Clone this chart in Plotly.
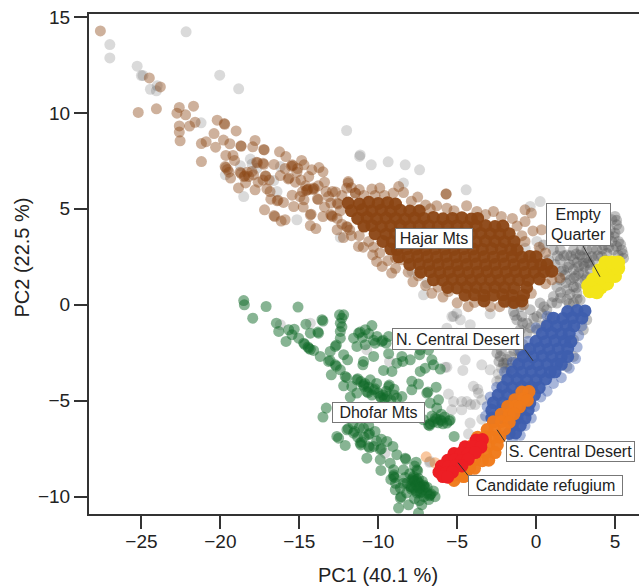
import plotly.graph_objects as go

gray_pts = [(-27.0,13.56),(-27.0,12.86),(-22.17,14.22),(-25.27,12.43),(-25.0,11.94),(-24.9,11.95),(-20.04,11.96),(-18.84,11.25),
(-24.0,11.41),(-24.43,11.23),(-24.05,11.15),(-21.22,9.48),(-12.0,9.08),(-11.18,7.73),(-18.1,7.59),(-17.99,7.34),(-16.2,7.2),
(-19.68,6.77),(-18.73,7.24),(-17.68,7.12),(-16.62,6.47),(-16.41,5.9),(-18.52,5.64),(-15.15,4.43),(-12.4,3.51),
(-4.43,5.99),(-7.38,7.03),(-8.4,6.34),(0.26,5.38),(-0.37,5.12),(0.05,3.3),(0.26,2.86),(-0.69,2.95),(-7.13,0.52),(-7.86,1.74),(-6.91,1.13),
(-2.91,-0.47),(-5.02,-0.44),(-5.33,-0.61),(-4.8,-0.78),(-4.17,-1.04),(-4.38,-1.65),(-5.23,-1.65),(-5.65,-1.22),(-4.49,-2.87),(-5.02,-1.48),
(-11.14,7.81),(-10.44,7.29),(-9.37,7.45),(-8.29,7.29),
(-5.55,-4.65),(-4.64,-3.42),(-5.76,-3.25),(-3.44,-3.13),(-3.97,-4.25),(-3.65,-4.6),(-5.23,-5.04),(-4.71,-5.04),(-4.39,-5.04),(-3.86,-5.2),
(-4.71,-5.47),(-5.34,-5.47),(-4.14,-5.2),(-3.44,-4.95),(-4.18,-6.16),(-3.44,-5.96),(-4.28,-6.72),(-2.49,-3.99),(-2.28,-3.91),(-2.91,-3.39),
(-2.07,-3.13),(-1.86,-3.04),(-1.86,-3.56),(-6.71,-8.16),(-5.23,-0.6),(-10.72,-2.34),(-9.28,-2.95),(-5.65,-3.25),(-14.3,-0.96),(-16.2,-1.04),
(-6.75,-8.21),(-9.56,-7.73),(-3.7,-4.4),(-2.4,-3.6),(-2.2,-3.3),(-1.9,-3.3)]

gray_cluster = [(5.0,4.6),(4.8,4.43),(5.11,4.17),(5.0,3.73),(4.69,3.9),(5.22,3.3),(4.8,3.3),(5.43,2.86),(4.9,2.86),(5.54,2.43),(4.48,2.69),(3.85,2.86),
(4.16,2.52),(3.21,2.86),(3.53,2.52),(2.37,2.86),(2.79,2.6),(1.53,2.86),(1.95,2.6),(1.1,2.86),(0.47,3.12),(0.79,2.34),(1.53,2.34),(2.37,2.34),
(2.99,2.17),(3.64,2.34),(1.74,1.82),(2.37,1.82),(2.99,1.65),(3.43,1.82),(2.69,2.0),(1.53,1.3),(2.16,1.3),(2.79,1.13),(1.84,1.56),(2.37,0.95),
(1.32,0.95),(1.95,0.78),(2.58,0.61),(2.79,0.26),(1.1,0.43),(0.26,0.09),(0.68,-0.26),(1.32,0.09),(1.95,0.26),(2.37,0.09),(0.05,-0.61),(0.68,-0.96),
(-0.37,-0.26),(-1.0,-0.09),(-1.43,-0.35),(-1.22,-0.78),(-0.58,-0.96),(0.05,-1.3),(-0.58,-1.48),(-1.0,-1.3),(-1.64,0.09),(3.21,-0.78),(2.99,-1.3),
(2.37,-1.82),(2.37,-2.69),(1.95,-3.21),(-2.48,-2.52),(-2.06,-3.04),(-1.0,-2.69),(-0.58,-2.34),(-1.64,-2.69),(-2.27,-2.69),
(2.9,2.5),(3.3,2.2),(3.1,1.3),(2.5,1.5),(2.1,2.1),(4.3,3.1),(4.6,3.6),(4.4,2.3),(1.2,2.1),(0.9,1.7),(-1.35,-0.55),(-0.9,-0.6),
(5.1,4.4),(5.25,3.95),(4.95,3.55),(5.35,3.15),(5.1,3.05),(5.5,2.65),(5.2,2.6),(4.6,3.0),(4.2,2.9),(3.9,2.55),(3.55,2.9),(3.2,2.45),(2.85,2.85),
(2.55,2.65),(2.2,2.55),(1.75,2.55),(1.35,2.55),(3.05,2.0),(3.4,2.1),(2.6,2.2),(2.0,1.95),(1.6,1.75),(2.7,1.65),(3.2,1.45),(2.4,1.4),(1.9,1.15),
(1.55,0.65),(2.15,0.55),(2.55,0.9),(2.6,0.3),(2.1,0.05),(1.55,0.35),(1.0,0.1),(0.5,-0.1),(0.9,-0.65),(0.35,-0.45),(0.3,-1.1),(-0.15,-0.7),
(-0.85,-0.95),(-0.35,-1.2),(-1.1,-2.4),(-0.85,-2.05),(-2.2,-2.4),(-1.85,-2.85),(-1.4,-2.4),(-1.3,-3.0),(-2.35,-2.95),(-1.6,-3.3)]

hajar_loose = [(-27.6,14.27),(-24.5,11.82),(-23.8,11.35),(-25.2,10.02),(-24.05,10.21),(-21.7,10.35),(-22.6,10.28),(-22.75,9.98),(-22.2,9.9),
(-21.6,9.51),(-21.95,9.31),(-22.6,9.32),(-22.6,9.0),(-22.55,8.54),(-21.2,8.4),(-20.9,8.5),(-20.3,8.21),(-20.4,8.92),(-20.2,9.62),(-19.75,9.44),
(-19.72,9.4),(-19.0,9.06),(-19.8,8.58),(-19.4,8.39),(-18.7,8.28),(-18.68,8.26),(-17.8,8.56),(-17.95,8.23),(-17.25,8.09),(-17.22,8.07),(-21.2,7.46),
(-19.65,7.78),(-19.2,7.78),(-19.1,7.52),(-19.7,7.2),(-19.65,7.15),(-19.55,7.05),(-19.45,6.91),(-19.35,6.6),(-18.75,6.91),(-18.7,6.85),(-18.5,6.68),
(-18.45,6.72),(-18.2,6.68),(-17.9,6.77),(-17.6,6.39),(-18.4,6.35),(-18.85,6.09),(-17.8,5.99),(-17.7,7.43),(-17.65,7.4),(-17.3,7.38),(-17.25,7.32),
(-16.6,7.31),(-17.15,6.72),(-17.12,6.7),(-16.25,7.97),(-15.85,7.72),(-15.45,7.29),(-15.4,7.25),(-15.5,7.22),(-14.85,7.52),(-14.7,7.29),(-15.15,6.91),
(-16.2,6.73),(-15.7,6.56),(-15.65,6.6),(-15.25,6.39),(-14.4,6.68),(-14.2,7.03),(-13.75,7.15),(-13.5,6.93),(-13.4,6.39),(-17.05,6.04),(-16.85,5.9),
(-15.45,5.71),(-14.5,5.99),(-14.45,6.02),(-14.55,5.95),(-14.1,6.08),(-14.05,6.04),(-14.15,6.0),(-14.95,5.64),(-14.7,5.47),(-13.85,5.52),(-13.8,5.48),
(-16.8,5.5),(-16.4,5.42),(-16.35,5.45),(-16.0,5.33),(-17.2,4.95),(-16.6,4.65),(-16.55,4.6),(-16.15,4.36),(-15.9,4.43),(-15.35,5.12),(-14.75,5.09),
(-14.3,4.69),(-14.25,4.72),(-14.3,4.13),(-13.95,3.97),(-13.5,4.6),(-12.95,4.64),(-12.9,4.6),(-13.0,4.7),(-13.15,5.64),(-12.7,5.87),(-12.6,5.3),
(-12.55,5.25),(-11.9,6.42),(-12.0,6.08),(-11.45,5.82),(-12.6,3.91),(-12.0,4.08),(-11.95,4.04),(-11.25,3.04),(-11.9,6.34),(-11.45,5.82),(-10.4,6.03),
(-9.9,6.08),(-9.05,5.82),(-8.7,6.16),(-8.4,5.85),(-7.5,5.61),(-5.7,5.78),(-5.7,5.76),(-6.3,5.16),(-5.65,5.03),(-4.4,5.16),(-3.75,4.86),(-2.7,4.86),
(-0.7,4.95),(-0.3,4.78),(-0.7,4.34),(-0.2,3.85),(0.35,3.91),(-10.95,3.0),(-10.35,2.6),(-10.1,2.26),(-9.75,2.0),(-9.15,1.65),(-8.9,2.43),(-8.5,2.34),
(-7.45,1.51),(-6.2,0.92),(-5.55,0.69),(-3.9,0.12),(-1.45,0.17),(-0.8,0.0),(-11.8,3.9),(-12.2,3.5),
(-18.3,6.9),(-18.0,6.95),(-17.3,6.5),(-16.9,6.5),(-15.9,7.1),(-15.1,7.1),(-14.9,6.5),(-14.6,6.2),(-14.8,5.9),(-13.8,6.2),(-13.3,5.9),(-13.0,5.3),
(-12.4,4.9),(-13.4,5.1),(-12.9,5.9),(-12.3,5.7),(-11.7,6.1),(-11.2,6.0),(-10.9,5.7),(-10.2,5.7),(-9.6,5.7),(-7.9,5.4),(-7.0,5.2),(-6.7,5.0),(-5.2,4.9),
(-3.2,4.7),(-2.2,4.6),(-1.5,4.5),(-1.2,4.1),(-0.9,3.6),(-0.7,3.3),(0.2,3.0),(0.6,2.7),(-12.6,4.5),(-12.3,4.2),(-11.7,3.6),(-11.2,3.6),(-10.6,3.3),
(-10.3,3.0),(-9.9,2.7),(-9.4,2.3),(-8.9,1.9),(-8.1,1.7),(-7.8,1.2),(-7.0,1.0),(-6.6,0.6),(-5.9,0.4),(-5.0,0.1),(-4.3,-0.1),(-2.9,-0.1),(-2.3,-0.1),
(-0.3,0.6),(0.6,1.1),(1.0,1.3),(1.5,1.4)]

hajar_core = [(-11.9,5.3),(-11.2,5.25),(-10.6,5.34),(-10.0,5.28),(-9.4,5.32),(-8.9,5.25),
(-11.7,4.9),(-11.0,4.95),(-10.4,4.88),(-9.8,4.93),(-9.2,4.87),(-8.6,4.92),(-8.0,4.88),(-7.4,4.9),
(-11.3,4.5),(-10.7,4.55),(-10.1,4.48),(-9.5,4.52),(-8.9,4.5),(-8.3,4.46),(-7.7,4.52),(-7.1,4.5),(-6.5,4.55),(-5.9,4.48),(-5.3,4.5),(-4.7,4.53),(-4.1,4.47),(-3.7,4.5),
(-10.9,4.1),(-10.4,4.12),(-9.8,4.08),(-9.2,4.1),(-8.6,4.13),(-8.0,4.08),(-7.4,4.1),(-6.8,4.12),(-6.2,4.07),(-5.6,4.1),(-5.0,4.12),(-4.4,4.08),(-3.8,4.1),(-3.2,4.12),(-2.6,4.08),(-2.1,4.1),
(-10.2,3.7),(-9.5,3.68),(-8.9,3.72),(-8.3,3.7),(-7.7,3.68),(-7.1,3.72),(-6.5,3.7),(-5.9,3.68),(-5.3,3.72),(-4.7,3.7),(-4.1,3.68),(-3.5,3.72),(-2.9,3.7),(-2.3,3.68),(-1.7,3.7),
(-9.7,3.3),(-9.1,3.28),(-8.6,3.32),(-8.0,3.3),(-7.4,3.28),(-6.8,3.32),(-6.2,3.3),(-5.6,3.28),(-5.0,3.32),(-4.4,3.3),(-3.8,3.28),(-3.2,3.32),(-2.6,3.3),(-2.0,3.28),(-1.4,3.3),
(-9.2,2.9),(-8.8,2.88),(-8.2,2.92),(-7.6,2.9),(-7.0,2.88),(-6.4,2.92),(-5.8,2.9),(-5.2,2.88),(-4.6,2.92),(-4.0,2.9),(-3.4,2.88),(-2.8,2.92),(-2.2,2.9),(-1.6,2.88),(-1.2,2.85),
(-8.7,2.5),(-8.1,2.48),(-7.5,2.52),(-6.9,2.5),(-6.3,2.48),(-5.7,2.52),(-5.1,2.5),(-4.5,2.48),(-3.9,2.52),(-3.3,2.5),(-2.7,2.48),(-2.1,2.52),(-1.5,2.5),(-0.9,2.48),(-0.4,2.52),(0.0,2.5),
(-8.0,2.1),(-7.4,2.12),(-6.8,2.08),(-6.2,2.1),(-5.6,2.12),(-5.0,2.08),(-4.4,2.1),(-3.8,2.12),(-3.2,2.08),(-2.6,2.1),(-2.0,2.12),(-1.4,2.08),(-0.8,2.1),(-0.2,2.12),(0.3,2.08),(0.7,2.1),
(-7.3,1.7),(-6.7,1.72),(-6.1,1.68),(-5.5,1.7),(-4.9,1.72),(-4.3,1.68),(-3.7,1.7),(-3.1,1.72),(-2.5,1.68),(-1.9,1.7),(-1.3,1.72),(-0.7,1.68),(-0.1,1.7),(0.5,1.72),(1.0,1.75),
(-6.5,1.3),(-5.9,1.28),(-5.3,1.32),(-4.7,1.3),(-4.1,1.28),(-3.5,1.32),(-2.9,1.3),(-2.3,1.28),(-1.7,1.32),(-1.1,1.3),(-0.5,1.28),(0.2,1.35),
(-5.6,0.9),(-5.0,0.88),(-4.4,0.92),(-3.8,0.9),(-3.2,0.88),(-2.6,0.92),(-2.0,0.9),(-1.4,0.88),(-0.6,0.9),
(-4.5,0.5),(-3.9,0.52),(-3.3,0.48),(-2.7,0.5),(-2.1,0.52),(-1.5,0.48),(-0.8,0.5),
(-3.3,0.2),(-2.0,0.18),(-1.4,0.12),(-0.9,0.2)]

dhofar_pts = [(-18.52,0.22),(-18.48,0.0),(-17.95,-0.7),(-17.1,-0.09),(-15.08,-0.12),(-16.45,-0.96),(-16.3,-1.39),(-15.84,-1.91),(-15.67,-1.3),(-15.32,-1.27),
(-15.46,-1.56),(-15.04,-1.74),(-14.72,-2.0),(-14.66,-2.06),(-14.4,-2.26),(-14.45,-2.2),(-14.3,-2.32),(-14.09,-2.38),(-13.67,-2.69),(-14.58,-1.01),(-14.3,-1.48),
(-13.78,-1.48),(-13.82,-1.42),(-13.56,-0.78),(-13.5,-0.85),(-12.45,-0.52),(-12.19,-0.52),(-12.4,-0.96),(-12.4,-1.39),(-12.4,-1.74),(-12.72,-2.17),(-12.65,-2.1),
(-13.04,-2.43),(-13.14,-2.95),(-13.05,-2.9),(-12.72,-3.13),(-12.65,-3.2),(-12.19,-2.6),(-11.94,-2.87),(-12.4,-3.39),(-12.09,-3.73),(-12.0,-3.8),(-12.97,-3.65),
(-12.19,-4.22),(-11.67,-4.26),(-11.35,-3.91),(-11.3,-3.85),(-10.93,-4.17),(-10.9,-4.25),(-10.85,-4.1),(-10.5,-3.91),(-10.29,-4.43),(-10.2,-4.38),(-10.72,-4.52),
(-10.65,-4.58),(-11.77,-4.81),(-11.35,-4.6),(-9.87,-4.78),(-9.8,-4.85),(-9.7,-4.7),(-9.34,-4.26),(-9.3,-4.18),(-9.45,-4.78),(-8.82,-4.86),(-8.5,-4.78),(-7.87,-3.99),
(-7.45,-4.13),(-7.87,-4.43),(-6.92,-4.6),(-6.85,-4.55),(-6.33,-4.29),(-6.18,-4.95),(-6.71,-5.12),(-6.29,-5.38),(-6.39,-5.9),(-6.3,-5.95),(-6.81,-6.25),(-6.75,-6.3),
(-6.7,-6.2),(-6.07,-5.99),(-6.0,-6.05),(-5.44,-5.99),(-5.5,-6.05),(-5.65,-6.16),(-5.19,-6.86),(-7.13,-5.99),
(-11.24,-1.48),(-11.15,-1.42),(-11.56,-1.74),(-10.4,-1.08),(-10.82,-1.3),(-10.08,-1.65),(-10.19,-2.0),(-9.77,-1.91),(-9.7,-1.85),(-10.82,-2.08),(-11.35,-2.17),
(-9.34,-1.65),(-9.34,-2.55),(-10.29,-2.69),(-10.93,-2.95),(-10.97,-3.13),(-8.5,-2.69),(-8.82,-3.04),(-7.97,-2.87),(-8.44,-2.95),(-9.66,-3.42),(-9.13,-3.47),
(-7.38,-2.6),(-6.6,-2.87),(-6.5,-3.13),(-7.02,-3.3),(-7.34,-3.47),(-6.07,-3.35),(-7.34,-2.35),(-6.81,-2.35),
(-13.5,-5.85),(-13.29,-5.38),(-12.62,-6.86),(-12.51,-6.95),(-12.09,-7.33),(-11.98,-6.51),(-11.9,-6.45),(-11.56,-6.69),(-11.5,-6.6),(-11.14,-7.21),(-11.1,-7.3),
(-11.05,-7.15),(-10.61,-6.77),(-10.55,-6.7),(-10.93,-6.43),(-10.61,-7.38),(-10.55,-7.45),(-10.29,-7.38),(-9.87,-7.55),(-9.8,-7.5),(-10.72,-7.99),(-9.45,-7.12),
(-9.07,-7.38),(-9.87,-8.07),(-9.24,-8.25),(-8.82,-7.81),(-8.29,-7.99),(-8.25,-8.05),(-9.83,-8.63),(-9.03,-8.94),(-8.95,-9.0),(-9.0,-8.85),(-9.03,-8.6),(-8.4,-8.6),
(-7.55,-8.6),(-7.5,-8.65),(-7.87,-9.12),(-7.8,-9.05),(-7.75,-9.15),(-7.55,-9.12),(-7.5,-9.2),(-7.45,-9.05),(-7.13,-9.46),(-7.05,-9.5),(-7.1,-9.4),(-6.71,-9.9),
(-6.65,-9.85),(-6.75,-9.95),(-7.34,-9.81),(-7.28,-9.75),(-7.97,-9.46),(-7.9,-9.5),(-8.6,-9.55),(-8.6,-10.07),(-8.55,-10.0),(-8.08,-10.42),(-8.71,-10.59),(-7.45,-10.85),
(-7.24,-10.42),(-8.92,-9.64),(-8.18,-9.29),(-7.76,-9.55),(-7.55,-9.81),(-7.34,-9.46),(-6.92,-9.81),(-7.76,-8.94),(-7.4,-9.3),(-7.6,-9.4),(-7.2,-9.65),
(-11.1,-4.0),(-10.6,-4.3),(-10.4,-4.7),(-10.0,-4.6),(-9.6,-4.9),(-9.2,-4.95),(-9.0,-4.7),(-9.5,-4.5),(-10.1,-4.1),(-9.0,-4.4),
(-11.6,-6.2),(-11.2,-6.4),(-10.6,-6.3),(-10.2,-6.6),(-10.9,-6.9),(-11.3,-6.9),(-10.1,-7.1),(-9.8,-7.0),
(-6.5,-6.1),(-6.2,-6.15),(-5.9,-6.2),(-5.8,-5.85),(-6.0,-5.7),(-6.6,-5.8),
(-8.3,-9.0),(-8.0,-8.8),(-7.9,-9.6),(-7.6,-9.7),(-7.2,-9.2),(-6.9,-9.5),(-6.5,-9.7),(-6.4,-10.0),(-6.8,-10.15),(-7.1,-10.0),(-7.4,-9.55),(-7.7,-9.2),(-8.4,-9.3),
(-8.2,-9.8),(-7.7,-10.1),(-7.4,-10.2),(-7.7,-8.4),(-7.6,-8.2),(-8.9,-9.3),(-9.2,-9.1),
(-12.3,-0.7),(-12.3,-1.15),(-10.6,-1.5),(-11.0,-1.7),(-9.5,-2.0),(-10.3,-1.85)]

central_n_loose = [(2.9,-1.1),(2.7,-1.6),(2.6,-2.2),(2.5,-2.8),(2.1,-3.3),(1.6,-3.8),(1.1,-4.1),(0.7,-4.5),(0.3,-4.8),(-0.1,-5.3),(-0.3,-5.9),(-0.7,-6.3),(-1.0,-6.8),
(-1.5,-7.1),(0.0,-1.2),(-0.5,-1.9),(-1.0,-2.4),(-1.5,-3.0),(-2.0,-3.5),(-2.5,-4.3),(-2.9,-4.8),(-3.1,-5.3),(-3.2,-5.8),(0.7,-0.6)]

central_n_pts = [(2.0,-0.35),(2.6,-0.3),(3.1,-0.32),(1.1,-0.7),(1.7,-0.72),(2.3,-0.68),(2.9,-0.7),
(0.7,-1.1),(1.3,-1.12),(1.9,-1.08),(2.4,-1.1),(0.4,-1.5),(1.0,-1.48),(1.6,-1.52),(2.1,-1.5),
(0.0,-1.9),(0.6,-1.92),(1.2,-1.88),(1.8,-1.9),(2.2,-1.92),(-0.4,-2.3),(0.2,-2.28),(0.8,-2.32),(1.4,-2.3),(2.0,-2.28),
(-0.8,-2.7),(-0.2,-2.72),(0.4,-2.68),(1.0,-2.7),(1.6,-2.72),(2.0,-2.7),(-1.1,-3.1),(-0.5,-3.08),(0.1,-3.12),(0.7,-3.1),(1.3,-3.08),(1.6,-3.1),
(-1.5,-3.5),(-0.9,-3.52),(-0.3,-3.48),(0.3,-3.5),(0.9,-3.52),(1.2,-3.5),(-1.8,-3.9),(-1.2,-3.88),(-0.6,-3.92),(0.0,-3.9),(0.6,-3.88),
(-2.1,-4.3),(-1.5,-4.32),(-0.9,-4.28),(-0.3,-4.3),(0.2,-4.32),(-2.4,-4.7),(-1.8,-4.68),(-1.2,-4.72),(-0.6,-4.7),(-0.1,-4.68),
(-2.7,-5.1),(-2.1,-5.12),(-1.5,-5.08),(-0.9,-5.1),(-0.4,-5.12),(-2.8,-5.5),(-2.2,-5.48),(-1.6,-5.52),(-1.0,-5.5),(-0.5,-5.48),
(-2.8,-5.9),(-2.2,-5.88),(-1.2,-5.92),(-0.7,-5.9),(-1.5,-6.3),(-1.0,-6.28),(-1.7,-6.7),(-1.3,-6.68)]

central_s_pts = [(-0.9,-4.55),(-0.45,-4.52),(-1.35,-4.95),(-0.8,-4.9),(-0.55,-4.98),(-1.8,-5.3),(-1.3,-5.28),(-1.05,-5.32),
(-2.2,-5.7),(-1.7,-5.72),(-1.4,-5.68),(-2.7,-6.1),(-2.2,-6.08),(-1.7,-6.12),(-3.1,-6.5),(-2.6,-6.52),(-2.0,-6.48),
(-3.7,-6.9),(-3.2,-6.88),(-2.7,-6.92),(-2.3,-6.9),(-4.0,-7.3),(-3.5,-7.28),(-3.0,-7.32),(-2.45,-7.3),
(-4.2,-7.7),(-3.7,-7.68),(-3.2,-7.72),(-2.6,-7.7),(-4.4,-8.1),(-3.9,-8.08),(-3.4,-8.12),(-3.0,-8.1),
(-4.6,-8.5),(-4.2,-8.48),(-3.9,-8.52),(-5.3,-8.9),(-4.8,-8.88),(-4.45,-8.9),(-5.2,-9.15),
(-4.6,-8.95)]

central_s_loose = [(-6.96,-7.92),(-6.4,-8.23),(-4.55,-9.0)]

refugium_pts = [(-3.8,-7.05),(-3.4,-7.02),(-4.5,-7.4),(-4.0,-7.38),(-3.5,-7.42),(-5.2,-7.75),(-4.75,-7.72),(-4.3,-7.78),(-3.85,-7.7),
(-5.6,-8.1),(-5.15,-8.08),(-4.7,-8.12),(-4.3,-8.05),(-6.0,-8.4),(-5.55,-8.42),(-5.1,-8.38),(-4.7,-8.4),
(-6.15,-8.72),(-5.7,-8.75),(-5.3,-8.72),(-5.9,-8.95),(-5.6,-8.98)]

empty_quarter_pts = [(3.4,0.7),(3.3,1.0),(3.7,0.8),(4.1,0.9),(4.5,1.1),(3.6,1.3),(4.1,1.4),(4.6,1.5),(5.0,1.5),(4.0,1.8),(4.4,1.9),
(4.9,1.9),(5.2,1.9),(4.4,2.2),(4.8,2.2),(5.2,2.2),(3.85,0.65)]

x_ticks = [-25, -20, -15, -10, -5, 0, 5]
y_ticks = [-10, -5, 0, 5, 10, 15]

labels = [("Hajar Mts", -6.46, 3.44, 76, 19), ("Empty<br>Quarter", 2.7, 4.2, 63, 41), ("N. Central Desert", -4.94, -1.76, 130, 20),
          ("Dhofar Mts", -10.0, -5.62, 91, 19), ("S. Central Desert", 2.15, -7.66, 127, 19), ("Candidate refugium", 0.57, -9.43, 153, 19)]
leaders = [((2.97, 3.07), (4.05, 1.46)), ((-0.7, -2.34), (-0.19, -2.92)), ((-2.47, -6.51), (-1.96, -7.14)), ((-4.94, -8.23), (-4.3, -8.9))]

series = [
    (gray_pts, "rgba(85,85,85,0.22)", 11),
    (gray_cluster, "rgba(85,85,85,0.36)", 11),
    (hajar_loose, "rgba(139,69,19,0.42)", 11),
    (hajar_core, "rgba(139,69,19,0.95)", 13),
    (dhofar_pts, "rgba(15,105,40,0.5)", 11),
    (central_n_loose, "rgba(62,94,174,0.45)", 11),
    (central_n_pts, "rgba(62,94,174,0.95)", 13),
    (central_s_loose, "rgba(240,122,26,0.42)", 11),
    (central_s_pts, "rgba(240,122,26,0.97)", 13),
    (refugium_pts, "rgba(237,30,36,1)", 13),
    (empty_quarter_pts, "rgba(243,229,25,1)", 14),
]

fig = go.Figure()
for pts, col, size in series:
    fig.add_trace(go.Scatter(x=[p[0] for p in pts], y=[p[1] for p in pts], mode="markers",
                             marker=dict(size=size, color=col, line=dict(width=0)), cliponaxis=True, hoverinfo="skip"))

for a, b in leaders:
    fig.add_shape(type="line", x0=a[0], y0=a[1], x1=b[0], y1=b[1], line=dict(color="#333", width=1), layer="above")

for t, x, y, w, h in labels:
    fig.add_annotation(text=t, x=x, y=y, width=w, height=h, showarrow=False, bgcolor="white", bordercolor="#777", borderwidth=1,
                       borderpad=0, font=dict(size=16, color="#222", family="Liberation Sans"), align="center", valign="middle")

axis_font = dict(size=19, color="#222", family="Liberation Sans")
title_font = dict(size=20, color="#222", family="Liberation Sans")
fig.add_annotation(text="PC1 (40.1 %)", xref="paper", yref="paper", x=0.526, y=-0.122, xanchor="center", yanchor="middle",
                   showarrow=False, font=title_font)
fig.add_annotation(text="PC2 (22.5 %)", xref="paper", yref="paper", x=-0.1226, y=0.512, xanchor="center", yanchor="middle",
                   showarrow=False, textangle=-90, font=title_font)

fig.update_layout(
    width=639, height=588, margin=dict(l=88.5, r=0, t=14, b=74), showlegend=False,
    paper_bgcolor="white", plot_bgcolor="white", font=axis_font,
    xaxis=dict(range=[-28.32, 6.52], tickvals=x_ticks, ticks="outside", ticklen=13, tickwidth=2, tickcolor="#333",
               showline=True, linewidth=2, linecolor="#333", mirror=True, showgrid=False, zeroline=False, tickfont=axis_font,
               ticklabelstandoff=-4),
    yaxis=dict(range=[-10.9, 15.15], tickvals=y_ticks, ticks="outside", ticklen=13, tickwidth=2, tickcolor="#333",
               showline=True, linewidth=2, linecolor="#333", showgrid=False, zeroline=False, tickfont=axis_font,
               ticklabeloverflow="allow"),
)
fig.write_html("out.html", config={"displayModeBar": False}, post_script="document.body.style.margin='0';")
